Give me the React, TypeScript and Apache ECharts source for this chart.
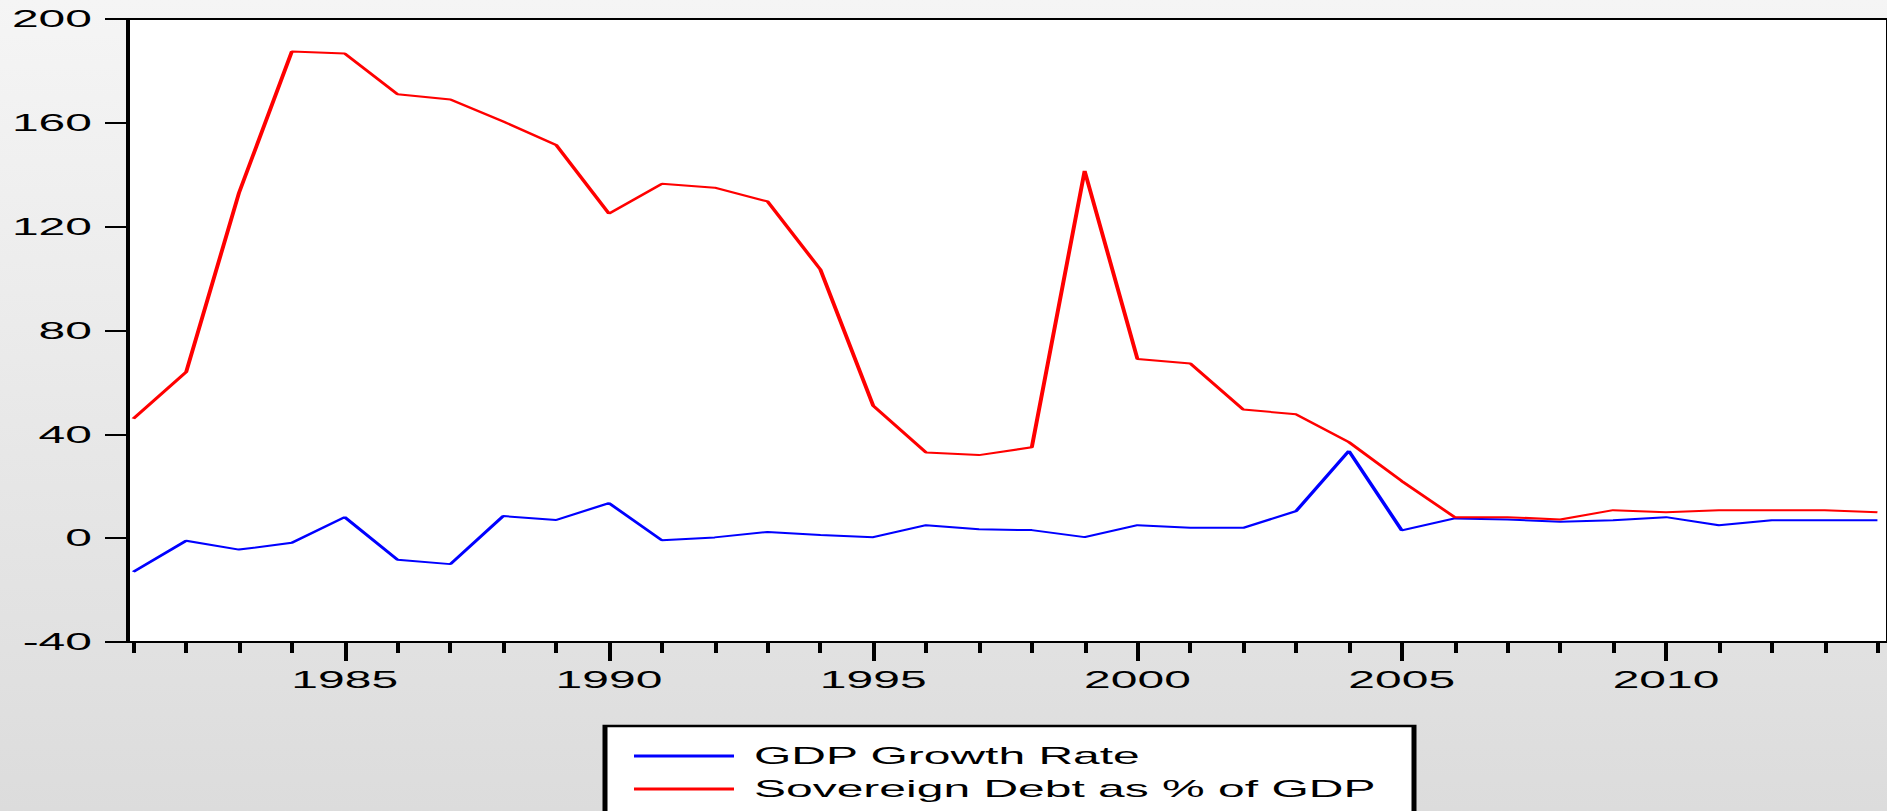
import React, { useEffect, useRef } from "react";
import * as echarts from "echarts";

const years = [
  1981, 1982, 1983, 1984, 1985, 1986, 1987, 1988, 1989, 1990,
  1991, 1992, 1993, 1994, 1995, 1996, 1997, 1998, 1999, 2000,
  2001, 2002, 2003, 2004, 2005, 2006, 2007, 2008, 2009, 2010,
  2011, 2012, 2013, 2014,
];
const gdpGrowth = [
  -13, -1, -4.4, -1.8, 8.1, -8.3, -10, 8.5, 7, 13.5,
  -0.8, 0.3, 2.4, 1.2, 0.4, 5, 3.4, 3.1, 0.4, 5,
  4, 4, 10.4, 33.6, 3, 7.6, 7.2, 6.3, 6.9, 8.1,
  5, 6.9, 6.9, 6.9,
];
const sovereignDebt = [
  46, 64, 133, 187.5, 186.7, 171, 169, 160.5, 151.5, 125,
  136.5, 135, 129.7, 103.5, 51, 33, 32, 35, 141.5, 69,
  67.3, 49.6, 47.7, 37, 22, 8.1, 8.1, 7.2, 10.8, 10,
  10.8, 10.8, 10.8, 10,
];
const majorYears = [1985, 1990, 1995, 2000, 2005, 2010];
const seriesNames = ["GDP Growth Rate", "Sovereign Debt as % of GDP"];
const seriesColors = ["#0000ff", "#ff0000"];

export default function App() {
  const ref = useRef<HTMLDivElement>(null);
  useEffect(() => {
    const chart = echarts.init(ref.current as HTMLDivElement, null, { renderer: "svg" });
    const font = "'Liberation Sans', Arial, sans-serif";
    const xMin = 1980.9;
    const xMax = 2014.2;
    const tickStyle = { color: "#000", width: 2 };
    chart.setOption({
      animation: false,
      grid: {
        left: 64,
        right: -4,
        top: 19,
        bottom: 169,
        show: true,
        backgroundColor: "#ffffff",
        borderColor: "#000",
        borderWidth: 2,
      },
      xAxis: [
        {
          type: "value",
          min: xMin,
          max: xMax,
          position: "bottom",
          axisLine: { show: true, onZero: false, lineStyle: tickStyle },
          axisTick: { show: true, customValues: years, length: 11, lineStyle: tickStyle },
          axisLabel: { show: false },
          splitLine: { show: false },
        },
        {
          type: "value",
          min: xMin,
          max: xMax,
          position: "bottom",
          axisLine: { show: false, onZero: false },
          axisTick: { show: true, customValues: majorYears, length: 19, lineStyle: tickStyle },
          axisLabel: {
            show: true,
            customValues: majorYears,
            fontSize: 24,
            fontFamily: font,
            color: "#000",
            margin: 26,
            formatter: (v: number) => String(v),
          },
          splitLine: { show: false },
        },
      ],
      yAxis: {
        type: "value",
        min: -40,
        max: 200,
        interval: 40,
        axisLine: { show: true, onZero: false, lineStyle: tickStyle },
        axisTick: { show: true, length: 11.5, lineStyle: tickStyle },
        axisLabel: { fontSize: 24, fontFamily: font, color: "#000", margin: 18 },
        splitLine: { show: false },
      },
      legend: {
        orient: "vertical",
        left: 317,
        top: 744,
        padding: 0,
        itemWidth: 50,
        itemHeight: 3,
        itemGap: 9,
        icon: "rect",
        data: seriesNames,
        textStyle: {
          fontSize: 24,
          fontFamily: font,
          color: "#000",
          lineHeight: 24,
          padding: [0, 0, 0, 5],
        },
      },
      graphic: [
        {
          type: "rect",
          z: 0,
          shape: { x: 302.5, y: 726, width: 404.5, height: 120 },
          style: { fill: "#ffffff", stroke: "#000", lineWidth: 2.5 },
        },
      ],
      series: [
        {
          name: seriesNames[0],
          type: "line",
          xAxisIndex: 0,
          data: years.map((y, i) => [y, gdpGrowth[i]]),
          color: seriesColors[0],
          symbol: "none",
          lineStyle: { color: seriesColors[0], width: 2 },
        },
        {
          name: seriesNames[1],
          type: "line",
          xAxisIndex: 0,
          data: years.map((y, i) => [y, sovereignDebt[i]]),
          color: seriesColors[1],
          symbol: "none",
          lineStyle: { color: seriesColors[1], width: 2 },
        },
      ],
    });
    return () => chart.dispose();
  }, []);
  return (
    <div
      style={{
        position: "fixed",
        left: 0,
        top: 0,
        width: 1887,
        height: 811,
        overflow: "hidden",
        background: "linear-gradient(to bottom, #f5f5f5, #dcdcdc)",
      }}
    >
      <div
        ref={ref}
        style={{
          position: "absolute",
          left: 0,
          top: 0,
          width: 944,
          height: 811,
          transform: "scaleX(2)",
          transformOrigin: "0 0",
        }}
      />
    </div>
  );
}
